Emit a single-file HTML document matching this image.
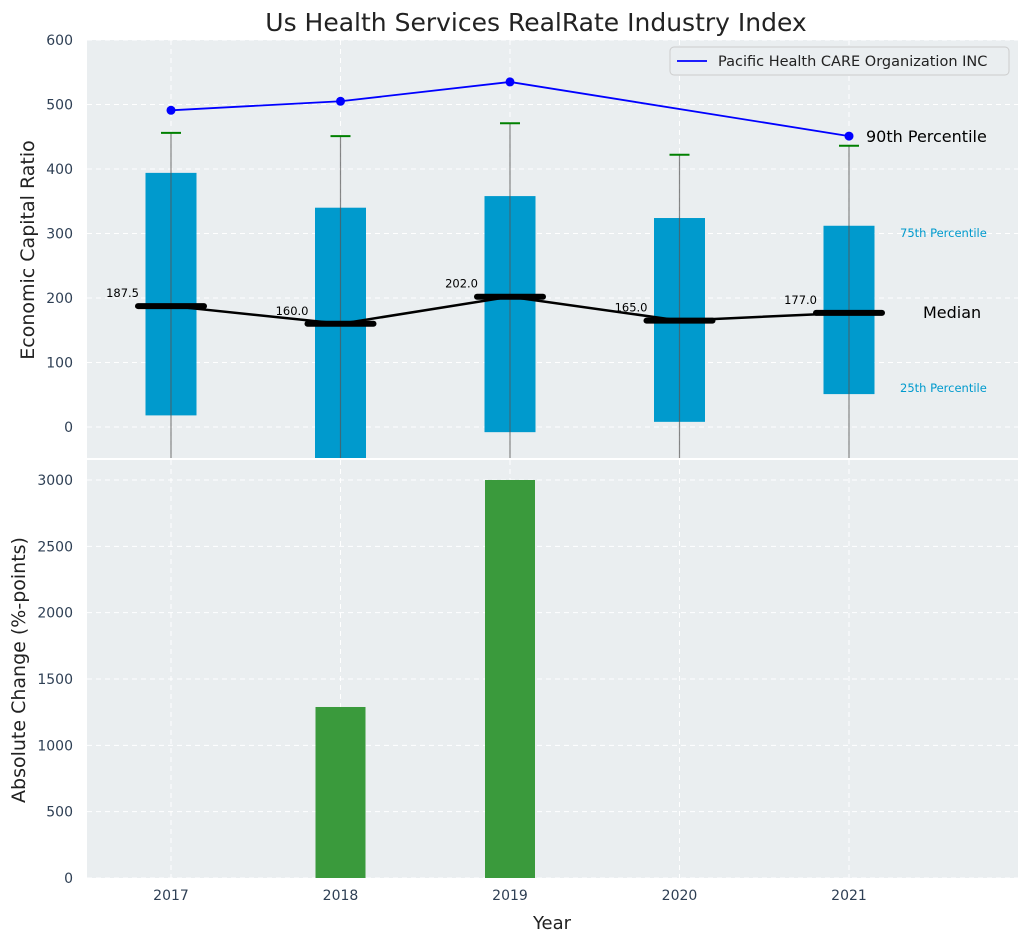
<!DOCTYPE html>
<html><head><meta charset="utf-8"><style>
body{margin:0;background:#fff;font-family:"Liberation Sans","DejaVu Sans",sans-serif}
svg text{font-family:"DejaVu Sans","Liberation Sans",sans-serif}
</style></head><body>
<svg id="c" width="1026" height="942" xmlns="http://www.w3.org/2000/svg"></svg>
<script>
const years=[2017,2018,2019,2020,2021];
const q25=[18,-60,-8,8,51];
const q75=[394,340,358,324,312];
const p90=[456,451,471,422,436];
const medians=[187.5,160,202,165,177];
const medianLabels=["187.5","160.0","202.0","165.0","177.0"];
const companyYears=[2017,2018,2019,2021];
const companyVals=[491,505,535,451];
const changeVals=[0,1289,3000,0,0];
const topTicks=[0,100,200,300,400,500,600];
const botTicks=[0,500,1000,1500,2000,2500,3000];

const NS="http://www.w3.org/2000/svg";
const svg=document.getElementById('c');
function el(t,a,p){const e=document.createElementNS(NS,t);for(const k in a)e.setAttribute(k,a[k]);(p||svg).appendChild(e);return e;}
const L=87,R=1018,T1=40,B1=458,T2=460,B2=878;
const x=v=>171+(v-2017)*169.5;
const y1=v=>427-v*0.645;
const y2=v=>878-v*0.13267;

let b=el('rect',{x:L,y:T1,width:R-L,height:B1-T1,fill:'#eaeef0'});

b=el('rect',{x:L,y:T2,width:R-L,height:B2-T2,fill:'#eaeef0'});


topTicks.forEach(t=>{const yy=y1(t);if(yy<T1-1)return;
 el('line',{x1:L,x2:R,y1:yy,y2:yy,stroke:'#fff','stroke-dasharray':'5,4','stroke-width':1});
 const tx=el('text',{x:73,y:yy+5,'text-anchor':'end','font-size':14,fill:'#2e3f54'});tx.textContent=t;
 });
botTicks.forEach(t=>{const yy=y2(t);
 el('line',{x1:L,x2:R,y1:yy,y2:yy,stroke:'#fff','stroke-dasharray':'5,4','stroke-width':1});
 const tx=el('text',{x:73,y:yy+5,'text-anchor':'end','font-size':14,fill:'#2e3f54'});tx.textContent=t;
 });
years.forEach(yr=>{const xx=x(yr);
 el('line',{x1:xx,x2:xx,y1:T1,y2:B1,stroke:'#fff','stroke-dasharray':'5,4'});
 el('line',{x1:xx,x2:xx,y1:T2,y2:B2,stroke:'#fff','stroke-dasharray':'5,4'});
 const tx=el('text',{x:xx,y:900,'text-anchor':'middle','font-size':14,fill:'#2e3f54'});tx.textContent=yr;
 });
el('line',{x1:L,x2:R,y1:459,y2:459,stroke:'#fff','stroke-width':2});

const defs=el('defs',{});
const cp=el('clipPath',{id:'cp1'},defs);el('rect',{x:L,y:T1,width:R-L,height:B1-T1},cp);
const g=el('g',{'clip-path':'url(#cp1)'});

years.forEach((yr,i)=>{const xx=x(yr);
 const r=el('rect',{x:xx-25.5,y:y1(q75[i]),width:51,height:y1(q25[i])-y1(q75[i]),fill:'#009ACD'},g);
 
 const w=el('line',{x1:xx,x2:xx,y1:y1(p90[i]),y2:B1+50,stroke:'#555','stroke-opacity':0.7,'stroke-width':1.2},g);
 
 const c=el('line',{x1:xx-10,x2:xx+10,y1:y1(p90[i]),y2:y1(p90[i]),stroke:'green','stroke-width':2},g);
 
});
const ml=el('polyline',{points:years.map((yr,i)=>x(yr)+','+y1(medians[i])).join(' '),fill:'none',stroke:'#000','stroke-width':2.5},g);

years.forEach((yr,i)=>{const xx=x(yr),yy=y1(medians[i]);
 const m=el('line',{x1:xx-33,x2:xx+33,y1:yy,y2:yy,stroke:'#000','stroke-width':6,'stroke-linecap':'round'},g);
 
 const t=el('text',{x:xx-32,y:yy-9,'text-anchor':'end','font-size':11.5,fill:'#000'});t.textContent=medianLabels[i];
 
});
const cl=el('polyline',{points:companyYears.map((yr,i)=>x(yr)+','+y1(companyVals[i])).join(' '),fill:'none',stroke:'blue','stroke-width':1.8},g);

companyYears.forEach((yr,i)=>{const d=el('circle',{cx:x(yr),cy:y1(companyVals[i]),r:4.5,fill:'blue'},g);
 });

years.forEach((yr,i)=>{if(!changeVals[i])return;const r=el('rect',{x:x(yr)-25,y:y2(changeVals[i]),width:50,height:B2-y2(changeVals[i]),fill:'#3a9a3c'});
 });

function txt(s,a,name){const t=el('text',a);t.textContent=s;return t;}
const lastX=x(2021);
txt('90th Percentile',{x:lastX+17,y:y1(companyVals[3])+6,'font-size':16,fill:'#000'},'p90-annotation');
txt('75th Percentile',{x:900,y:237,'font-size':11.5,fill:'#009ACD'},'p75-annotation');
txt('Median',{x:923,y:318,'font-size':16,fill:'#000'},'median-annotation');
txt('25th Percentile',{x:900,y:392,'font-size':11.5,fill:'#009ACD'},'p25-annotation');
txt('Us Health Services RealRate Industry Index',{x:536,y:31,'text-anchor':'middle','font-size':25,fill:'#222'},'chart-title');
txt('Economic Capital Ratio',{x:0,y:0,'font-size':19,fill:'#222','text-anchor':'middle',transform:'translate(34,250) rotate(-90)'},'y-axis-title');
txt('Absolute Change (%-points)',{x:0,y:0,'font-size':19,fill:'#222','text-anchor':'middle',transform:'translate(25,670) rotate(-90)'},'y2-axis-title');
txt('Year',{x:552,y:929,'text-anchor':'middle','font-size':18,fill:'#222'},'x-axis-title');

const lg=el('g',{});
el('rect',{x:670,y:47,width:339,height:28,rx:4,fill:'#eaeef0',stroke:'#ccc'},lg);
el('line',{x1:677,x2:707,y1:61,y2:61,stroke:'blue','stroke-width':1.8},lg);
const lt=el('text',{x:718,y:66,'font-size':14.5,fill:'#222'},lg);lt.textContent='Pacific Health CARE Organization INC';

</script>
</body></html>
